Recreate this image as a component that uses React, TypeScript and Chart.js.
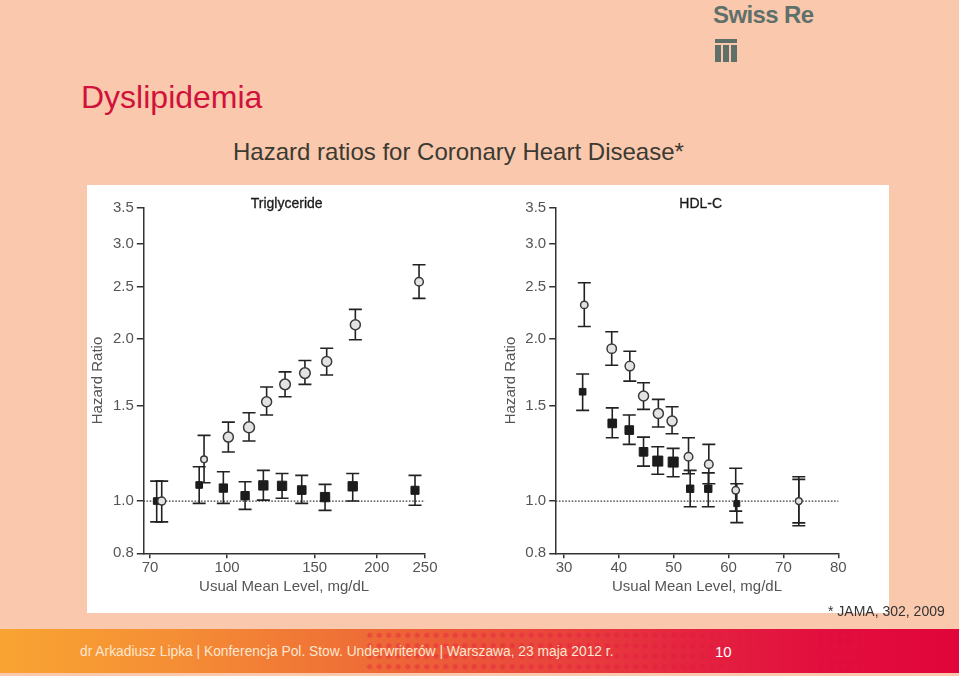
import React, { useEffect, useRef } from "react";
import { Chart, registerables } from "chart.js";

Chart.register(...registerables);

// ---------- DATA ----------
const Y_TICKS = [0.8, 1.0, 1.5, 2.0, 2.5, 3.0, 3.5];
const REFERENCE_HR = 1.0;

// Triglyceride panel (x: usual mean level, mg/dL, log axis)
const TG_X_TICKS = [70, 100, 150, 200, 250];
const TG_SQ_X = [72.2, 87.9, 98.3, 108.7, 118.3, 129.0, 141.3, 157.4, 178.9, 238.7];
const TG_SQ_HR = [1.0, 1.071, 1.057, 1.023, 1.069, 1.067, 1.048, 1.017, 1.065, 1.047];
const TG_SQ_LO = [0.915, 0.99, 0.99, 0.965, 1.004, 1.012, 0.99, 0.961, 1.0, 0.982];
const TG_SQ_HI = [1.089, 1.158, 1.133, 1.086, 1.14, 1.125, 1.116, 1.074, 1.125, 1.116];
const TG_CI_X = [73.9, 89.9, 100.6, 110.7, 120.1, 130.8, 143.4, 158.6, 181.1, 243.2];
const TG_CI_HR = [1.0, 1.195, 1.314, 1.37, 1.528, 1.646, 1.727, 1.815, 2.123, 2.551];
const TG_CI_LO = [0.915, 1.081, 1.233, 1.292, 1.444, 1.561, 1.646, 1.713, 1.991, 2.376];
const TG_CI_HI = [1.089, 1.324, 1.401, 1.458, 1.627, 1.736, 1.823, 1.92, 2.267, 2.744];

// HDL-C panel (x: usual mean level, mg/dL, linear axis)
const HDL_X_TICKS = [30, 40, 50, 60, 70, 80];
const HDL_SQ_X = [33.4, 38.8, 41.9, 44.5, 47.1, 49.9, 53.0, 56.3, 61.5, 72.8];
const HDL_SQ_HR = [1.595, 1.393, 1.354, 1.234, 1.186, 1.181, 1.054, 1.054, 0.989, 1.0];
const HDL_SQ_LO = [1.473, 1.31, 1.274, 1.161, 1.121, 1.109, 0.976, 0.976, 0.912, 0.911];
const HDL_SQ_HI = [1.72, 1.489, 1.444, 1.314, 1.261, 1.252, 1.14, 1.128, 1.077, 1.097];
const HDL_CI_X = [33.7, 38.7, 42.0, 44.5, 47.2, 49.7, 52.7, 56.4, 61.3, 72.8];
const HDL_CI_HR = [2.311, 1.917, 1.78, 1.566, 1.454, 1.407, 1.208, 1.17, 1.047, 1.0];
const HDL_CI_LO = [2.108, 1.786, 1.669, 1.479, 1.372, 1.333, 1.124, 1.077, 0.958, 0.9];
const HDL_CI_HI = [2.54, 2.06, 1.896, 1.657, 1.544, 1.496, 1.31, 1.274, 1.15, 1.109];

// ---------- STYLE ----------
const FONT = "'Liberation Sans', Arial, Helvetica, sans-serif";
const TG_SQ_R = [4.7, 4.7, 5.9, 5.9, 6.6, 6.6, 6.1, 6.6, 6.6, 5.7];
const TG_CI_R = [4, 3.3, 5, 5.5, 5, 5.3, 5.3, 5, 5, 4.3];
const HDL_SQ_R = [4.7, 6.1, 6.1, 6.1, 7.1, 7.1, 5.2, 5.2, 4.2, 3];
const HDL_CI_R = [3.7, 4.7, 4.7, 5, 5, 5, 4.3, 4.3, 3.7, 3.4];

const errorBarPlugin = {
  id: "errorBars",
  beforeDatasetsDraw(chart: any) {
    const { ctx, chartArea, scales } = chart;
    const xs = scales.x;
    const ys = scales.y;
    ctx.save();
    // reference line
    const yr = ys.getPixelForValue(REFERENCE_HR);
    ctx.setLineDash([1.6, 1.6]);
    ctx.strokeStyle = "#3a3a3a";
    ctx.lineWidth = 1.2;
    ctx.beginPath();
    ctx.moveTo(chartArea.left, yr);
    ctx.lineTo(chartArea.right, yr);
    ctx.stroke();
    ctx.setLineDash([]);
    ctx.strokeStyle = "#222";
    ctx.lineWidth = 1.6;
    const cap = 6.5;
    chart.data.datasets.forEach((ds: any) => {
      ds.data.forEach((p: any, i: number) => {
        const px = xs.getPixelForValue(p.x);
        const pt = ys.getPixelForValue(ds.errHi[i]);
        const pb = ys.getPixelForValue(ds.errLo[i]);
        ctx.beginPath();
        ctx.moveTo(px, pt);
        ctx.lineTo(px, pb);
        ctx.moveTo(px - cap, pt);
        ctx.lineTo(px + cap, pt);
        ctx.moveTo(px - cap, pb);
        ctx.lineTo(px + cap, pb);
        ctx.stroke();
      });
    });
    ctx.restore();
  },
};

type PanelProps = {
  left: number;
  width: number;
  areaLeft: number;
  areaRight: number;
  xType: "logarithmic" | "linear";
  xMin: number;
  xMax: number;
  xTicks: number[];
  sq: { x: number[]; hr: number[]; lo: number[]; hi: number[]; r: number[] };
  ci: { x: number[]; hr: number[]; lo: number[]; hi: number[]; r: number[] };
  yTitleCenter: number;
};

const TOP = 185;
const HEIGHT = 428;
const AREA_TOP = 207.7;
const AREA_BOTTOM = 553.3;

function Panel(props: PanelProps) {
  const ref = useRef<HTMLCanvasElement | null>(null);
  useEffect(() => {
    if (!ref.current) return;
    const padTop = AREA_TOP - TOP;
    const xHeight = TOP + HEIGHT - AREA_BOTTOM;
    const yWidth = props.areaLeft - props.left;
    const padRight = props.left + props.width - props.areaRight;
    const tickFont = { family: FONT, size: 15 };
    const titleFont = { family: FONT, size: 15 };
    const chart = new Chart(ref.current, {
      type: "scatter",
      data: {
        datasets: [
          {
            label: "crude",
            data: props.ci.x.map((x, i) => ({ x, y: props.ci.hr[i] })),
            errLo: props.ci.lo,
            errHi: props.ci.hi,
            order: 0,
            pointStyle: "circle",
            pointRadius: props.ci.r,
            backgroundColor: "#e3e3e3",
            borderColor: "#3a3a3a",
            borderWidth: 1.5,
          } as any,
          {
            label: "adjusted",
            data: props.sq.x.map((x, i) => ({ x, y: props.sq.hr[i] })),
            errLo: props.sq.lo,
            errHi: props.sq.hi,
            order: 1,
            pointStyle: "rect",
            pointRadius: props.sq.r,
            backgroundColor: "#1c1c1c",
            borderColor: "#1c1c1c",
            borderWidth: 1,
          } as any,
        ],
      },
      options: {
        animation: false,
        responsive: false,
        events: [],
        layout: { padding: { top: padTop, right: padRight, left: 0, bottom: 0 } },
        plugins: {
          legend: { display: false },
          tooltip: { enabled: false },
          title: { display: false },
        },
        scales: {
          x: {
            type: props.xType,
            min: props.xMin,
            max: props.xMax,
            afterBuildTicks: (s: any) => {
              s.ticks = props.xTicks.map((v) => ({ value: v }));
            },
            afterFit: (s: any) => {
              s.height = xHeight;
            },
            ticks: {
              autoSkip: false,
              maxRotation: 0,
              padding: 1,
              color: "#555",
              font: tickFont,
              callback: (v: any) => String(v),
            },
            grid: { drawOnChartArea: false, drawTicks: true, tickLength: 5, color: "#333", lineWidth: 1.5 },
            border: { display: true, color: "#333", width: 1.5 },
            title: {
              display: true,
              text: "Usual Mean Level, mg/dL",
              color: "#555",
              font: titleFont,
              padding: { top: 0, bottom: 16.7 },
            },
          },
          y: {
            type: "logarithmic",
            min: 0.8,
            max: 3.5,
            afterBuildTicks: (s: any) => {
              s.ticks = Y_TICKS.map((v) => ({ value: v }));
            },
            afterFit: (s: any) => {
              s.width = yWidth;
            },
            ticks: {
              autoSkip: false,
              padding: 3,
              color: "#555",
              font: tickFont,
              callback: (v: any) => Number(v).toFixed(1),
            },
            grid: { drawOnChartArea: false, drawTicks: true, tickLength: 6.5, color: "#333", lineWidth: 1.5 },
            border: { display: true, color: "#333", width: 1.5 },
            title: {
              display: true,
              text: "Hazard Ratio",
              color: "#555",
              font: titleFont,
              padding: { top: props.yTitleCenter - props.left - 9, bottom: 0 },
            },
          },
        },
      } as any,
      plugins: [errorBarPlugin],
    });
    return () => chart.destroy();
  }, []);
  return (
    <canvas
      ref={ref}
      width={props.width}
      height={HEIGHT}
      style={{ position: "absolute", left: props.left, top: TOP, width: props.width, height: HEIGHT }}
    />
  );
}

export default function App() {
  const abs = (o: any) => ({ position: "absolute" as const, ...o });
  return (
    <div
      style={{
        position: "absolute",
        left: 0,
        top: 0,
        width: 959,
        height: 676,
        background: "#FAC8AD",
        overflow: "hidden",
        fontFamily: FONT,
      }}
    >
      {/* Logo */}
      <div
        style={abs({
          left: 713,
          top: 3,
          fontSize: 24,
          lineHeight: "24px",
          fontWeight: 700,
          color: "#5f706b",
          letterSpacing: -0.6,
          whiteSpace: "nowrap",
        })}
      >
        Swiss Re
      </div>
      <div style={abs({ left: 715, top: 39, width: 22, height: 3.5, background: "#5f706b" })} />
      <div style={abs({ left: 715, top: 45, width: 5.5, height: 17, background: "#5f706b" })} />
      <div style={abs({ left: 723, top: 45, width: 5.5, height: 17, background: "#5f706b" })} />
      <div style={abs({ left: 731, top: 45, width: 6, height: 17, background: "#5f706b" })} />

      {/* Titles */}
      <div style={abs({ left: 81, top: 81, fontSize: 32, lineHeight: "32px", color: "#D0123A", whiteSpace: "nowrap" })}>
        Dyslipidemia
      </div>
      <div style={abs({ left: 233, top: 139.5, fontSize: 24, lineHeight: "24px", color: "#3a3a32", whiteSpace: "nowrap" })}>
        Hazard ratios for Coronary Heart Disease*
      </div>

      {/* White panel */}
      <div style={abs({ left: 87, top: 185, width: 802, height: 428, background: "#ffffff" })} />

      <Panel
        left={87}
        width={395}
        areaLeft={143.3}
        areaRight={425}
        xType="logarithmic"
        xMin={67.86}
        xMax={250}
        xTicks={TG_X_TICKS}
        sq={{ x: TG_SQ_X, hr: TG_SQ_HR, lo: TG_SQ_LO, hi: TG_SQ_HI, r: TG_SQ_R }}
        ci={{ x: TG_CI_X, hr: TG_CI_HR, lo: TG_CI_LO, hi: TG_CI_HI, r: TG_CI_R }}
        yTitleCenter={98.3}
      />
      <Panel
        left={500}
        width={386}
        areaLeft={555.7}
        areaRight={838.3}
        xType="linear"
        xMin={28.49}
        xMax={80}
        xTicks={HDL_X_TICKS}
        sq={{ x: HDL_SQ_X, hr: HDL_SQ_HR, lo: HDL_SQ_LO, hi: HDL_SQ_HI, r: HDL_SQ_R }}
        ci={{ x: HDL_CI_X, hr: HDL_CI_HR, lo: HDL_CI_LO, hi: HDL_CI_HI, r: HDL_CI_R }}
        yTitleCenter={510.7}
      />
      <div style={abs({ left: 186.7, top: 194.7, width: 200, textAlign: "center", fontSize: 14, lineHeight: "16px", color: "#1a1a1a", WebkitTextStroke: "0.3px #1a1a1a" })}>
        Triglyceride
      </div>
      <div style={abs({ left: 600.7, top: 194.7, width: 200, textAlign: "center", fontSize: 14, lineHeight: "16px", color: "#1a1a1a", WebkitTextStroke: "0.3px #1a1a1a" })}>
        HDL-C
      </div>

      {/* Source */}
      <div style={abs({ left: 828, top: 603, fontSize: 14, lineHeight: "16px", color: "#333", whiteSpace: "nowrap" })}>
        * JAMA, 302, 2009
      </div>

      {/* Footer */}
      <div
        style={abs({
          left: 0,
          top: 629,
          width: 959,
          height: 44,
          background:
            "linear-gradient(90deg, #F9A532 0%, #F58E35 18%, #EF7036 36%, #EA4A3B 55%, #E42440 72%, #E20E3D 86%, #E1053A 100%)",
        })}
      />
      <div
        style={abs({
          left: 365,
          top: 630,
          width: 500,
          height: 42,
          opacity: 0.35,
          backgroundImage: "radial-gradient(circle, #E2153F 2.3px, rgba(226,21,63,0) 3px)",
          backgroundSize: "9.5px 10.5px",
        })}
      />
      <div style={abs({ left: 80, top: 644, fontSize: 13.8, lineHeight: "16px", color: "#FDE6CF", whiteSpace: "nowrap" })}>
        dr Arkadiusz Lipka | Konferencja Pol. Stow. Underwriterów | Warszawa, 23 maja 2012 r.
      </div>
      <div style={abs({ left: 715, top: 643, fontSize: 15, lineHeight: "18px", color: "#FFFFFF", whiteSpace: "nowrap" })}>
        10
      </div>
    </div>
  );
}
